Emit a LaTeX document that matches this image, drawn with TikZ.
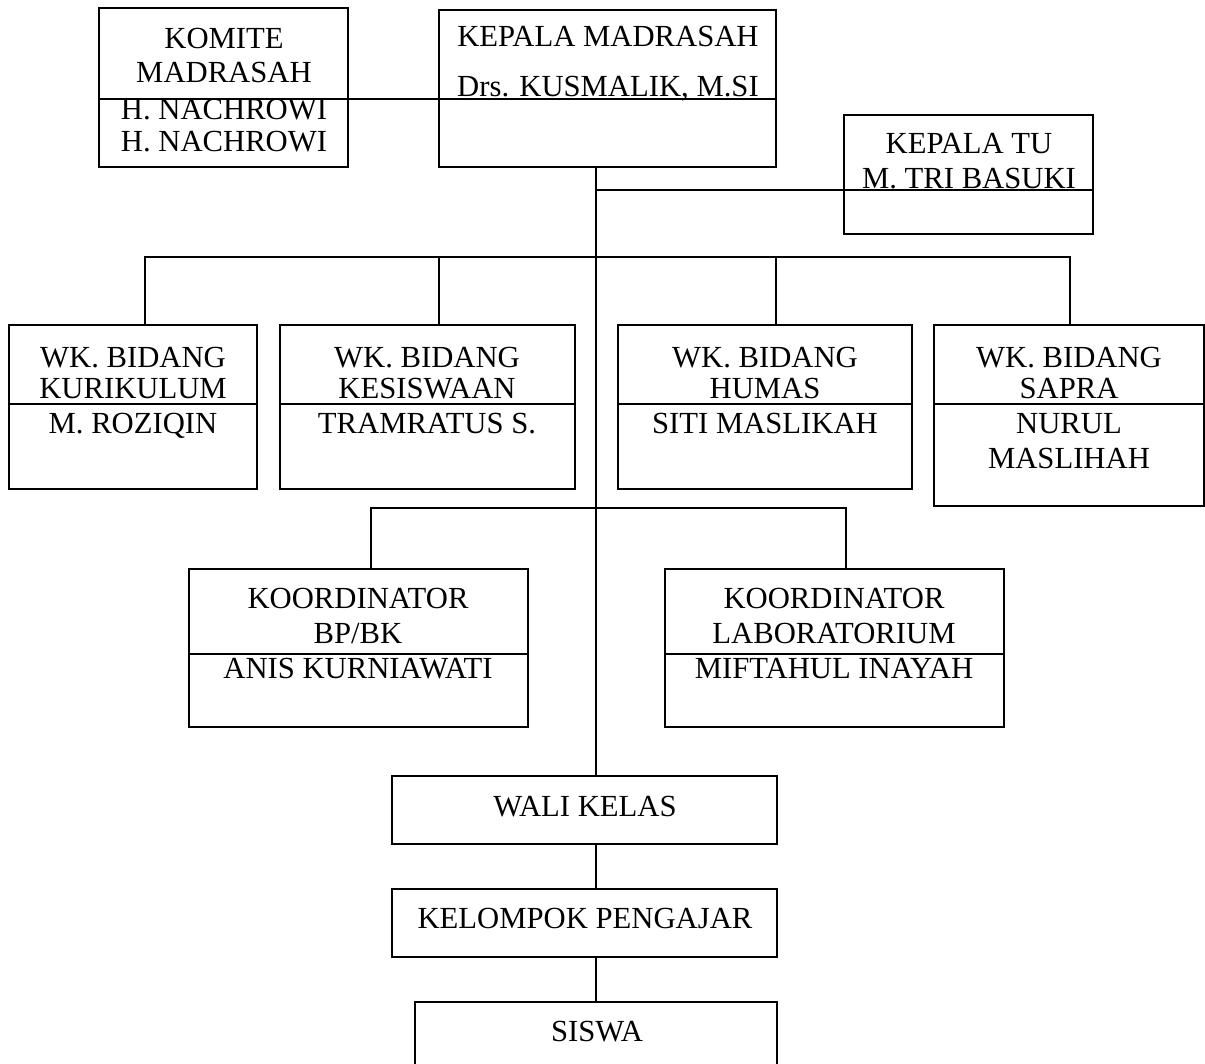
\documentclass[tikz,border=0pt]{standalone}
\usepackage{fontspec}
\setmainfont{Liberation Serif}
\usetikzlibrary{fit}
\begin{document}
\begin{tikzpicture}[x=0.75pt,y=-0.75pt,
  box/.style={draw,line width=1pt,inner sep=0pt},
  ln/.style={line width=1pt},
  lbl/.style={anchor=base,inner sep=0pt,font=\fontsize{23}{27}\selectfont}]
\useasboundingbox (0,0) rectangle (1205,1063);
% helper coordinates
\coordinate (tr) at (596,0);
\coordinate (kd) at (0,99);
\coordinate (tud) at (0,190);
\coordinate (bus1) at (0,257);
\coordinate (bus2) at (0,508);
% boxes
\node[box,fit={(99,8) (348,167)}] (komite) {};
\node[box,fit={(439,10) (776,167)}] (kepala) {};
\node[box,fit={(844,115) (1093,234)}] (tu) {};
\node[box,fit={(9,325) (257,489)}] (wk1) {};
\node[box,fit={(280,325) (575,489)}] (wk2) {};
\node[box,fit={(618,325) (912,489)}] (wk3) {};
\node[box,fit={(934,325) (1204,506)}] (wk4) {};
\node[box,fit={(189,569) (528,727)}] (kbp) {};
\node[box,fit={(665,569) (1004,727)}] (klab) {};
\node[box,fit={(392,776) (777,844)}] (wali) {};
\node[box,fit={(392,889) (777,957)}] (kel) {};
\node[box,fit={(415,1002) (777,1090)}] (siswa) {};
% dividers
\draw[ln] (komite.west |- kd) -- (komite.east |- kd);
\draw[ln] (kepala.west |- kd) -- (kepala.east |- kd);
\draw[ln] (tu.west |- tud) -- (tu.east |- tud);
\foreach \b in {wk1,wk2,wk3,wk4}{\draw[ln] (\b.west |- 0,404) -- (\b.east |- 0,404);}
\foreach \b in {kbp,klab}{\draw[ln] (\b.west |- 0,654) -- (\b.east |- 0,654);}
% connectors
\draw[ln] (komite.east |- kd) -- (kepala.west |- kd);
\draw[ln] (kepala.south -| tr) -- (wali.north -| tr);
\draw[ln] (tr |- tud) -- (tu.west |- tud);
\draw[ln] (wk1.north -| 145,0) |- (tr |- bus1);
\draw[ln] (wk4.north -| 1070,0) |- (tr |- bus1);
\draw[ln] (wk2.north -| 439,0) -- (439,257);
\draw[ln] (wk3.north -| 776,0) -- (776,257);
\draw[ln] (kbp.north -| 371,0) |- (tr |- bus2);
\draw[ln] (klab.north -| 846,0) |- (tr |- bus2);
\draw[ln] (wali.south -| tr) -- (kel.north -| tr);
\draw[ln] (kel.south -| tr) -- (siswa.north -| tr);
% texts
\node[lbl] (t1) at (224,49) {KOMITE};
\node[lbl] (t2) at (224,82) {MADRASAH};
\node[lbl] (t3) at (224,119) {H. NACHROWI};
\node[lbl] (t4) at (224,151) {H. NACHROWI};
\node[lbl] (t5) at (608,46) {KEPALA MADRASAH};
\node[lbl] (t6) at (608,96) {Drs. KUSMALIK, M.SI};
\node[lbl] (t7) at (969,153) {KEPALA TU};
\node[lbl] (t8) at (969,188) {M. TRI BASUKI};
\node[lbl] (w1a) at (133,367) {WK. BIDANG};
\node[lbl] (w1b) at (133,398) {KURIKULUM};
\node[lbl] (w1c) at (133,433) {M. ROZIQIN};
\node[lbl] (w2a) at (427,367) {WK. BIDANG};
\node[lbl] (w2b) at (427,398) {KESISWAAN};
\node[lbl] (w2c) at (427,433) {TRAMRATUS S.};
\node[lbl] (w3a) at (765,367) {WK. BIDANG};
\node[lbl] (w3b) at (765,398) {HUMAS};
\node[lbl] (w3c) at (765,433) {SITI MASLIKAH};
\node[lbl] (w4a) at (1069,367) {WK. BIDANG};
\node[lbl] (w4b) at (1069,398) {SAPRA};
\node[lbl] (w4c) at (1069,433) {NURUL};
\node[lbl] (w4d) at (1069,468) {MASLIHAH};
\node[lbl] (k1a) at (358,608) {KOORDINATOR};
\node[lbl] (k1b) at (358,643) {BP/BK};
\node[lbl] (k1c) at (358,678) {ANIS KURNIAWATI};
\node[lbl] (k2a) at (834,608) {KOORDINATOR};
\node[lbl] (k2b) at (834,643) {LABORATORIUM};
\node[lbl] (k2c) at (834,678) {MIFTAHUL INAYAH};
\node[lbl] (tw) at (585,816) {WALI KELAS};
\node[lbl] (tk) at (585,928) {KELOMPOK PENGAJAR};
\node[lbl] (ts) at (597,1041) {SISWA};
\end{tikzpicture}
\end{document}
